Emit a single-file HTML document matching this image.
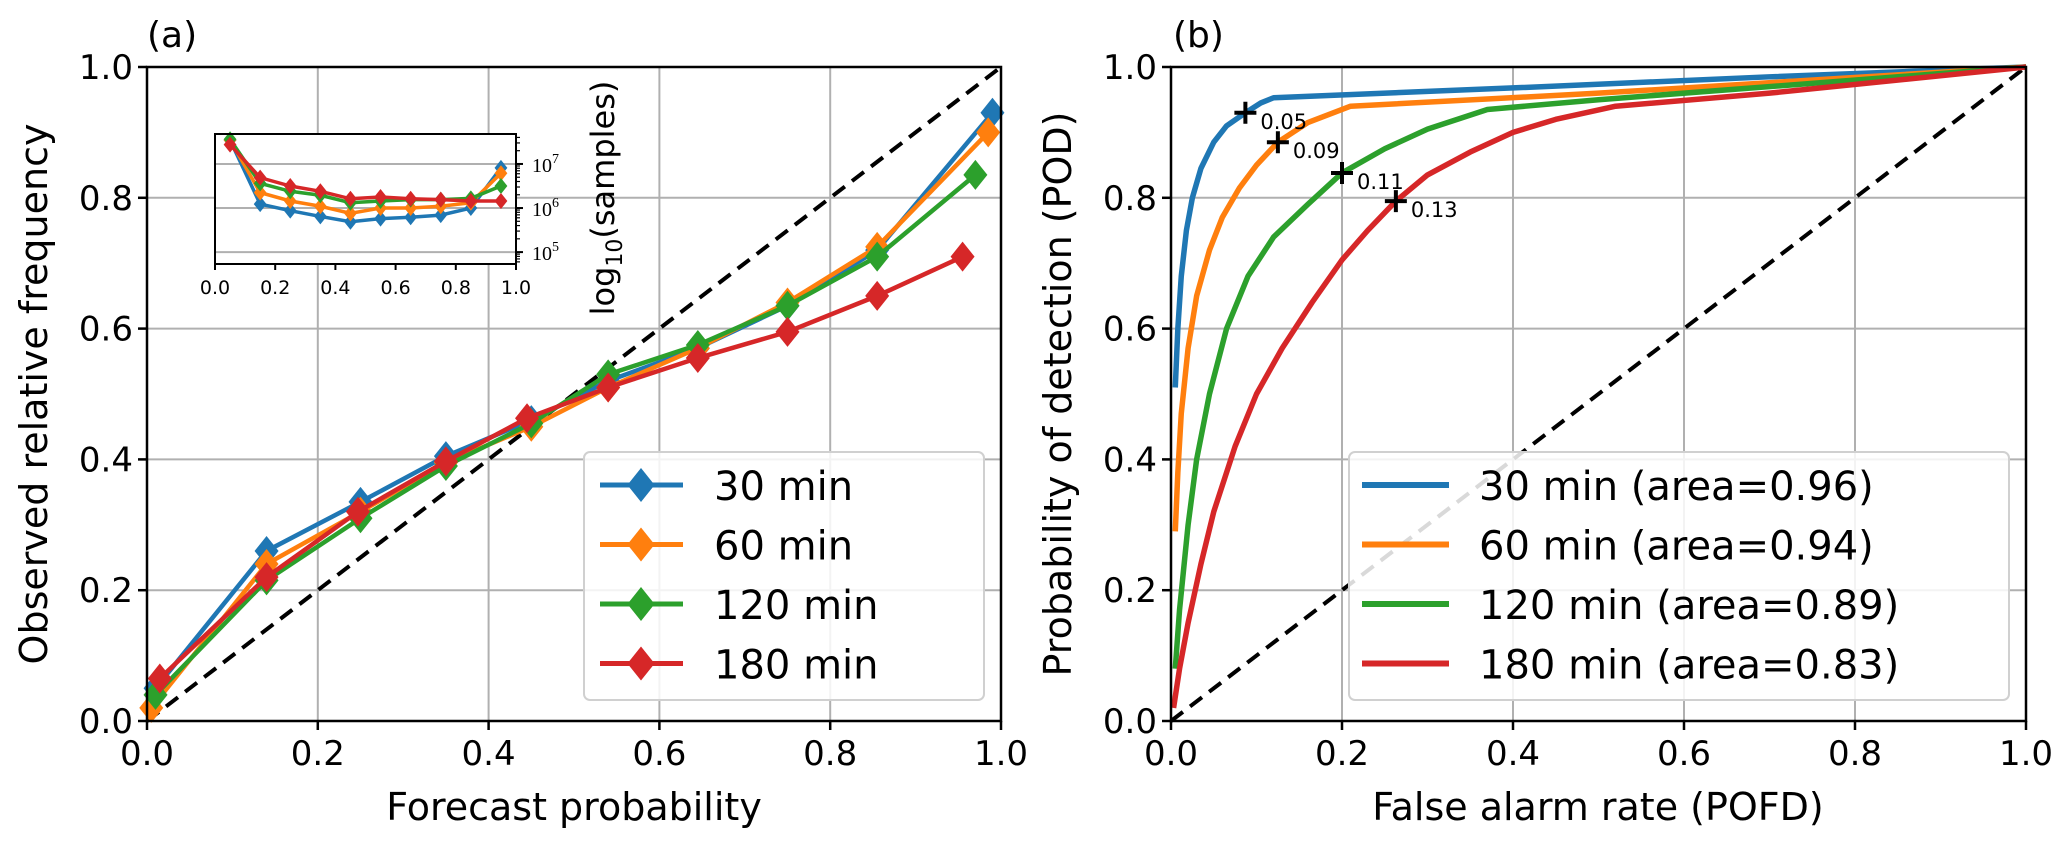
<!DOCTYPE html>
<html><head><meta charset="utf-8"><style>
html,body{margin:0;padding:0;background:#fff}
svg{display:block;font-family:"DejaVu Sans","Liberation Sans",sans-serif}
</style></head><body>
<svg id="fig" width="2067" height="847" viewBox="0 0 2067 847" xmlns="http://www.w3.org/2000/svg"></svg>
<script>
const colors=["#1f77b4","#ff7f0e","#2ca02c","#d62728"];
const leadLabels=["30 min","60 min","120 min","180 min"];
const ticks=[0,0.2,0.4,0.6,0.8,1.0];
const tickLabels=["0.0","0.2","0.4","0.6","0.8","1.0"];
// panel a reliability
const relX=[
 [0.01,0.14,0.25,0.35,0.45,0.54,0.645,0.75,0.855,0.99],
 [0.005,0.14,0.25,0.35,0.45,0.54,0.645,0.75,0.855,0.985],
 [0.01,0.14,0.25,0.35,0.45,0.54,0.645,0.75,0.855,0.97],
 [0.015,0.14,0.247,0.35,0.445,0.54,0.645,0.75,0.855,0.955]];
const relY=[
 [0.05,0.26,0.335,0.405,0.46,0.52,0.57,0.635,0.72,0.93],
 [0.02,0.24,0.32,0.395,0.45,0.51,0.57,0.64,0.725,0.90],
 [0.04,0.215,0.31,0.39,0.455,0.53,0.575,0.635,0.71,0.835],
 [0.065,0.22,0.32,0.397,0.463,0.51,0.555,0.595,0.65,0.71]];
// inset sample counts (log10)
const binX=[0.05,0.15,0.25,0.35,0.45,0.55,0.65,0.75,0.85,0.95];
const logSamples=[
 [7.54,6.09,5.94,5.81,5.69,5.76,5.79,5.84,6.0,6.91],
 [7.54,6.35,6.16,6.04,5.88,6.0,6.0,6.04,6.12,6.79],
 [7.56,6.56,6.38,6.29,6.12,6.16,6.19,6.19,6.22,6.5],
 [7.44,6.69,6.5,6.38,6.21,6.25,6.21,6.19,6.16,6.16]];
// panel b ROC
const rocX=[
 [0.005,0.008,0.012,0.018,0.025,0.035,0.05,0.065,0.087,0.105,0.12,0.4,0.7,1],
 [0.005,0.008,0.012,0.02,0.03,0.045,0.06,0.08,0.1,0.125,0.16,0.21,0.5,1],
 [0.005,0.01,0.02,0.03,0.045,0.065,0.09,0.12,0.16,0.2,0.25,0.3,0.37,0.5,1],
 [0.003,0.01,0.02,0.035,0.05,0.075,0.1,0.13,0.165,0.2,0.23,0.263,0.3,0.35,0.4,0.45,0.52,0.7,1]];
const rocY=[
 [0.51,0.6,0.68,0.75,0.8,0.845,0.885,0.91,0.93,0.945,0.953,0.968,0.985,1],
 [0.29,0.38,0.47,0.57,0.65,0.72,0.77,0.815,0.85,0.885,0.915,0.94,0.96,1],
 [0.08,0.17,0.3,0.4,0.5,0.6,0.68,0.74,0.79,0.838,0.875,0.905,0.935,0.95,1],
 [0.02,0.08,0.15,0.24,0.32,0.42,0.5,0.57,0.64,0.705,0.75,0.795,0.835,0.87,0.9,0.92,0.94,0.96,1]];
const areas=["0.96","0.94","0.89","0.83"];
const thrX=[0.087,0.125,0.2,0.263];
const thrY=[0.93,0.885,0.838,0.795];
const thrLabels=["0.05","0.09","0.11","0.13"];

const svg=document.getElementById('fig');
const NS="http://www.w3.org/2000/svg";
function mk(tag,attrs,parent){const e=document.createElementNS(NS,tag);for(const k in attrs)e.setAttribute(k,attrs[k]);(parent||svg).appendChild(e);return e;}
function txt(s,attrs,parent){const e=mk('text',attrs,parent);e.textContent=s;return e;}

function panel(x0,x1,y0,y1,name){
 const sx=v=>x0+v*(x1-x0), sy=v=>y1-v*(y1-y0);
 const g=mk('g',{});
 
 
 ticks.forEach((t,i)=>{
  const gl=mk('line',{x1:sx(t),x2:sx(t),y1:y0,y2:y1,stroke:"#b0b0b0","stroke-width":2},g);
  
  
  const gh=mk('line',{x1:x0,x2:x1,y1:sy(t),y2:sy(t),stroke:"#b0b0b0","stroke-width":2},g);
  
  
  mk('line',{x1:sx(t),x2:sx(t),y1:y1,y2:y1+9,stroke:"#000","stroke-width":2.5},g);
  mk('line',{x1:x0-9,x2:x0,y1:sy(t),y2:sy(t),stroke:"#000","stroke-width":2.5},g);
  const xl=txt(tickLabels[i],{x:sx(t),y:y1+44,"font-size":34,"text-anchor":"middle"},g);
  
  
  const yl=txt(tickLabels[i],{x:x0-14,y:sy(t)+12,"font-size":34,"text-anchor":"end"},g);
  
  
 });
 const d=mk('line',{x1:sx(0),y1:sy(0),x2:sx(1),y2:sy(1),stroke:"#000","stroke-width":4,"stroke-dasharray":"15,9"},g);
 
 
 return {g,sx,sy};
}
function frame(x0,x1,y0,y1,g){
 const r=mk('rect',{x:x0,y:y0,width:x1-x0,height:y1-y0,fill:"none",stroke:"#000","stroke-width":2.5},g);
 
 
}
function diamond(cx,cy,s,c,g){
 return mk('polygon',{points:`${cx},${cy-s} ${cx+s*0.8},${cy} ${cx},${cy+s} ${cx-s*0.8},${cy}`,fill:c},g);
}

// Panel A
const A=panel(147,1001,67,721,'reliability-panel');
relX.forEach((xs,k)=>{
 const pts=xs.map((x,i)=>A.sx(x)+','+A.sy(relY[k][i])).join(' ');
 const pl=mk('polyline',{points:pts,fill:"none",stroke:colors[k],"stroke-width":4.5},A.g);
 
 
 xs.forEach((x,i)=>{const m=diamond(A.sx(x),A.sy(relY[k][i]),15,colors[k],A.g);
  
  });
});
frame(147,1001,67,721,A.g);
let t=txt("Forecast probability",{x:574,y:820,"font-size":38,"text-anchor":"middle"});

t=txt("Observed relative frequency",{x:0,y:0,"font-size":38,"text-anchor":"middle",transform:"translate(47,394) rotate(-90)"});

t=txt("(a)",{x:147,y:47,"font-size":36});


// Legend A
const LA=mk('g',{});


mk('rect',{x:584,y:452,width:400,height:248,rx:6,fill:"rgba(255,255,255,0.85)",stroke:"#d0d0d0","stroke-width":2},LA);
leadLabels.forEach((l,k)=>{
 const y=485+k*59.5;
 const e=mk('g',{},LA);
 
 
 mk('line',{x1:600,x2:683,y1:y,y2:y,stroke:colors[k],"stroke-width":5},e);
 diamond(641,y,17,colors[k],e);
 txt(l,{x:714,y:y+15,"font-size":40},e);
});

// Inset
const ix0=215,ix1=516,iy0=134,iy1=264;
const isx=v=>ix0+v*(ix1-ix0);
const lmin=4.73,lmax=7.68;
const isy=v=>iy1-(v-lmin)/(lmax-lmin)*(iy1-iy0);
const I=mk('g',{});


mk('rect',{x:ix0,y:iy0,width:ix1-ix0,height:iy1-iy0,fill:"#fff"},I);
const decades=[5,6,7];
decades.forEach(dd=>{
 mk('line',{x1:ix0,x2:ix1,y1:isy(dd),y2:isy(dd),stroke:"#b0b0b0","stroke-width":2},I);
 mk('line',{x1:ix1,x2:ix1+7,y1:isy(dd),y2:isy(dd),stroke:"#000","stroke-width":2},I);
 const tl=txt("10",{x:ix1+16,y:isy(dd)+8,"font-size":20,"font-family":"Liberation Serif, serif"},I);
 
 
 const sp=document.createElementNS(NS,'tspan');sp.setAttribute('dy','-9');sp.setAttribute('font-size','14');sp.textContent=String(dd);tl.appendChild(sp);
 for(let m=2;m<10;m++){const v=dd+Math.log10(m);if(v<lmax)mk('line',{x1:ix1,x2:ix1+4,y1:isy(v),y2:isy(v),stroke:"#000","stroke-width":1.2},I);}
});
[4+Math.log10(6),4+Math.log10(7),4+Math.log10(8),4+Math.log10(9)].forEach(v=>{if(v>lmin)mk('line',{x1:ix1,x2:ix1+4,y1:isy(v),y2:isy(v),stroke:"#000","stroke-width":1.2},I);});
logSamples.forEach((ys,k)=>{
 const pts=binX.map((x,i)=>isx(x)+','+isy(ys[i])).join(' ');
 const pl=mk('polyline',{points:pts,fill:"none",stroke:colors[k],"stroke-width":3.5},I);
 
 
 binX.forEach((x,i)=>{const m=diamond(isx(x),isy(ys[i]),8,colors[k],I);
  });
});
mk('rect',{x:ix0,y:iy0,width:ix1-ix0,height:iy1-iy0,fill:"none",stroke:"#000","stroke-width":2},I);
ticks.forEach((tk,i)=>{
 mk('line',{x1:isx(tk),x2:isx(tk),y1:iy1,y2:iy1+6,stroke:"#000","stroke-width":2},I);
 const tl=txt(tickLabels[i],{x:isx(tk),y:iy1+30,"font-size":19,"text-anchor":"middle"},I);
 
});
t=txt("log",{x:0,y:0,"font-size":32,"text-anchor":"middle",transform:"translate(614,198) rotate(-90)"},I);

let s1=document.createElementNS(NS,'tspan');s1.setAttribute('font-size','22');s1.setAttribute('dy','8');s1.textContent='10';t.appendChild(s1);
let s2=document.createElementNS(NS,'tspan');s2.setAttribute('dy','-8');s2.textContent='(samples)';t.appendChild(s2);

// Panel B
const B=panel(1171,2026,67,721,'roc-panel');
rocX.forEach((xs,k)=>{
 const pts=xs.map((x,i)=>B.sx(x)+','+B.sy(rocY[k][i])).join(' ');
 const pl=mk('polyline',{points:pts,fill:"none",stroke:colors[k],"stroke-width":5.5,"stroke-linejoin":"round"},B.g);
 
 
});
thrX.forEach((x,k)=>{
 const cx=B.sx(x),cy=B.sy(thrY[k]);
 const m=mk('path',{d:`M${cx-11},${cy}H${cx+11}M${cx},${cy-11}V${cy+11}`,stroke:"#000","stroke-width":4},B.g);
 
 
 const l=txt(thrLabels[k],{x:cx+15,y:cy+16,"font-size":21},B.g);
 
 
});
frame(1171,2026,67,721,B.g);
t=txt("False alarm rate (POFD)",{x:1598,y:820,"font-size":38,"text-anchor":"middle"});

t=txt("Probability of detection (POD)",{x:0,y:0,"font-size":38,"text-anchor":"middle",transform:"translate(1071,394) rotate(-90)"});

t=txt("(b)",{x:1173,y:47,"font-size":36});


const LB=mk('g',{});


mk('rect',{x:1349,y:452,width:660,height:248,rx:6,fill:"rgba(255,255,255,0.85)",stroke:"#d0d0d0","stroke-width":2},LB);
leadLabels.forEach((l,k)=>{
 const y=485+k*59.5;
 const e=mk('g',{},LB);
 
 
 mk('line',{x1:1362,x2:1449,y1:y,y2:y,stroke:colors[k],"stroke-width":6},e);
 txt(l+" (area="+areas[k]+")",{x:1479,y:y+15,"font-size":40},e);
});
</script>
</body></html>
